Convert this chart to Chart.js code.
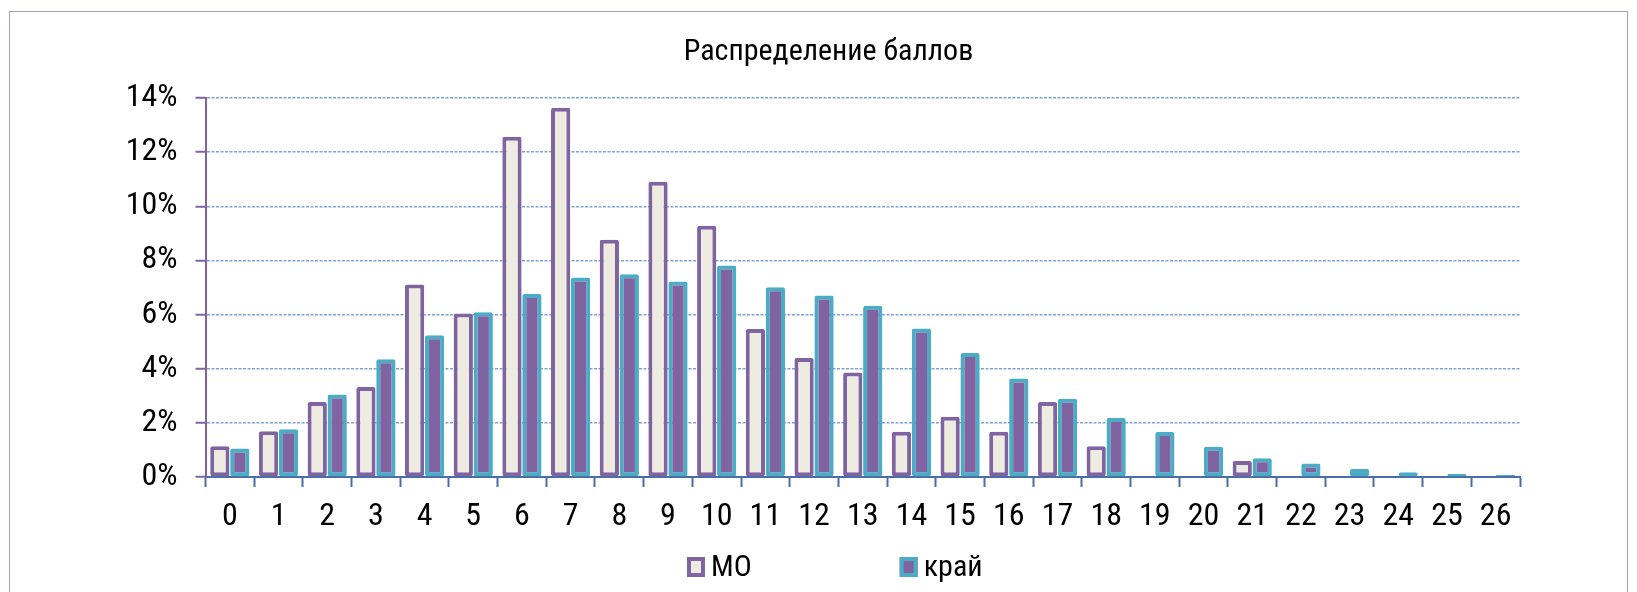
<!DOCTYPE html>
<html>
<head>
<meta charset="utf-8">
<script src="https://cdn.jsdelivr.net/npm/chart.js@4/dist/chart.umd.min.js"></script>
<style>
  html, body { margin: 0; padding: 0; background: #fff; overflow: hidden; }
  #frame { position: absolute; left: 9px; top: 11px; width: 1617px; height: 640px; border: 1px solid #a99bcb; }
  #wrap { position: absolute; left: 0; top: 0; width: 1637px; height: 592px; }
</style>
</head>
<body>
<div id="frame"></div>
<div id="wrap"><canvas id="chartBally"></canvas></div>
<script>
// баллы 0..26
const categories = ['0','1','2','3','4','5','6','7','8','9','10','11','12','13','14','15','16','17','18','19','20','21','22','23','24','25','26'];
// доля участников, %
const valuesMO   = [1.14, 1.69, 2.77, 3.32, 7.11, 6.04, 12.57, 13.64, 8.76, 10.91, 9.28, 5.47, 4.40, 3.86, 1.67, 2.23, 1.67, 2.77, 1.14, 0, 0, 0.59, 0, 0, 0, 0, 0];
const valuesKrai = [1.05, 1.76, 3.05, 4.35, 5.24, 6.09, 6.76, 7.37, 7.49, 7.22, 7.81, 7.01, 6.70, 6.33, 5.49, 4.58, 3.64, 2.89, 2.18, 1.66, 1.12, 0.69, 0.50, 0.30, 0.18, 0.11, 0.07];
const yTicks = [0, 2, 4, 6, 8, 10, 12, 14];

const fam = '"Roboto Condensed", "Liberation Sans Narrow", "Arial Narrow", sans-serif';
Chart.defaults.font.family = fam;
Chart.defaults.color = '#000';

// заголовок центрируем по области диаграммы Excel (чуть левее центра графика)
const titleShift = {
  id: 'titleShift',
  afterLayout(chart) {
    chart.titleBlock.left = 137;
  }
};

// легенда внизу, как в оригинале (широкий промежуток между элементами)
const legendBottom = {
  id: 'legendBottom',
  afterDraw(chart) {
    const ctx = chart.ctx;
    ctx.save();
    ctx.font = '30px ' + fam;
    ctx.textBaseline = 'middle';
    const boxW = 18, boxH = 20, txtGap = 6, itemGap = 148;
    const items = chart.data.datasets.map(ds => ({ ds, w: boxW + txtGap + ctx.measureText(ds.label).width }));
    const total = items.reduce((s, it) => s + it.w, 0) + itemGap * (items.length - 1);
    let x = (chart.chartArea.left + chart.chartArea.right) / 2 - 28 - total / 2;
    const y = chart.chartArea.bottom + 90;
    items.forEach(it => {
      ctx.fillStyle = it.ds.backgroundColor;
      ctx.strokeStyle = it.ds.borderColor;
      ctx.lineWidth = 4;
      ctx.fillRect(x, y - boxH / 2, boxW, boxH);
      ctx.strokeRect(x + 2, y - boxH / 2 + 2, boxW - 4, boxH - 4);
      ctx.fillStyle = '#000';
      ctx.fillText(it.ds.label, x + boxW + txtGap, y + 1);
      x += it.w + itemGap;
    });
    ctx.restore();
  }
};

const ctxB = document.getElementById('chartBally').getContext('2d');

new Chart(ctxB, {
  type: 'bar',
  data: {
    labels: categories,
    datasets: [{
      label: 'МО',
      data: valuesMO,
      backgroundColor: '#eeece1',
      borderColor: '#8064a2',
      borderWidth: 4,
      borderRadius: 2,
      borderSkipped: false,
      categoryPercentage: 0.82,
      barPercentage: 0.965
    }, {
      label: 'край',
      data: valuesKrai,
      backgroundColor: '#8064a2',
      borderColor: '#4bacc6',
      borderWidth: 4,
      borderRadius: 2,
      borderSkipped: false,
      categoryPercentage: 0.82,
      barPercentage: 0.965
    }]
  },
  options: {
    responsive: true,
    maintainAspectRatio: false,
    animation: false,
    layout: {
      padding: { left: 0, right: 117, top: 0, bottom: 55 }
    },
    plugins: {
      legend: { display: false },
      tooltip: { enabled: false },
      title: {
        display: true,
        text: 'Распределение баллов',
        color: '#000',
        font: { size: 30, weight: 'normal' },
        padding: { top: 34, bottom: 28 }
      }
    },
    scales: {
      x: {
        afterFit: s => { s.height = 60; },
        grid: {
          drawOnChartArea: false,
          tickLength: 10,
          tickColor: '#4a6daa',
          tickWidth: 2
        },
        border: { color: '#4a6daa', width: 2 },
        ticks: { padding: 11, font: { size: 32 }, maxRotation: 0, autoSkip: false }
      },
      y: {
        min: 0,
        max: 14,
        afterFit: s => { s.width = 205.5; },
        afterBuildTicks: s => { s.ticks = yTicks.map(v => ({ value: v })); },
        grid: {
          color: c => (c.tick && c.tick.value === 0) ? 'rgba(0,0,0,0)' : '#7ea3d6',
          lineWidth: 1.5,
          tickLength: 10,
          tickColor: '#8064a2',
          tickWidth: 2
        },
        border: { color: '#8064a2', width: 2, dash: [3, 1.5] },
        ticks: {
          padding: 18,
          font: { size: 32 },
          callback: v => v + '%'
        }
      }
    }
  },
  plugins: [titleShift, legendBottom]
});
</script>
</body>
</html>
